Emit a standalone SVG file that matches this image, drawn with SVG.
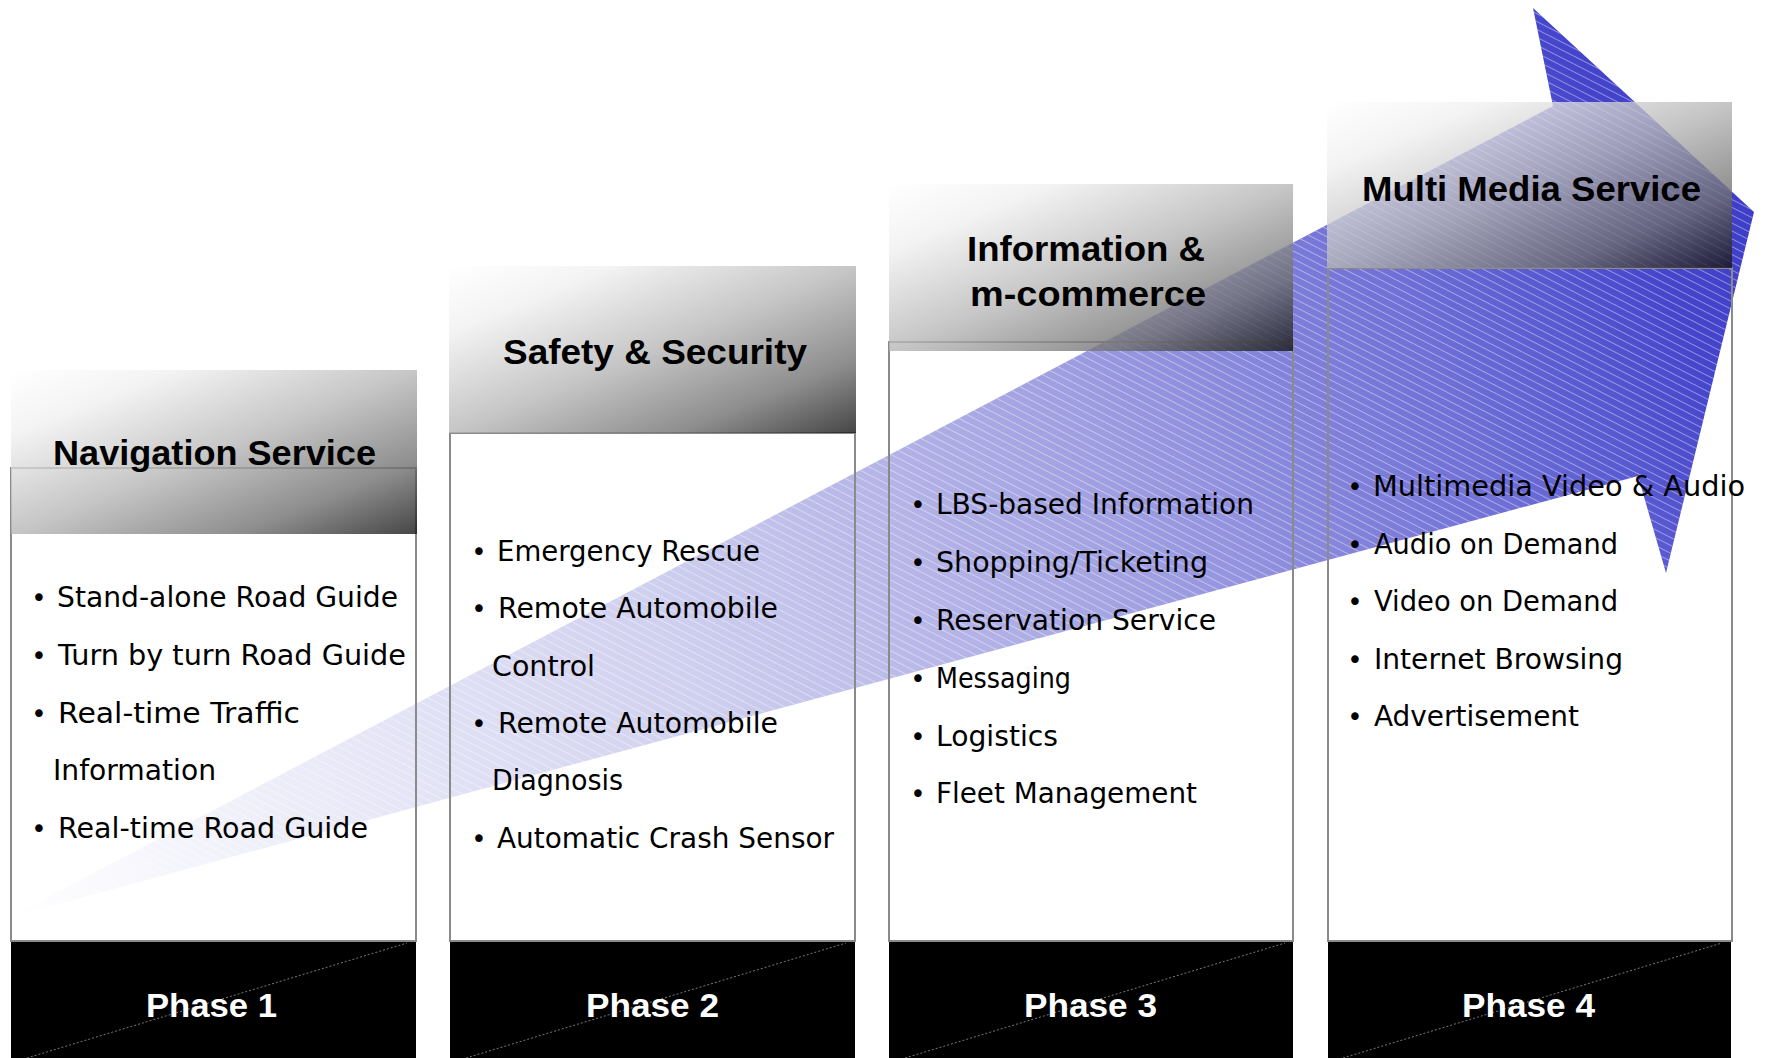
<svg xmlns="http://www.w3.org/2000/svg" width="1765" height="1058" viewBox="0 0 1765 1058">
  <style>
    .body-bg { fill: #ffffff; }
    .frame { fill: none; stroke: #8a8a8a; stroke-width: 2; }
    .head { fill: url(#headGrad); opacity: 0.78; }
    .bar { fill: #000000; }
    .bar-diag { stroke: #7a7a7a; stroke-width: 1; stroke-dasharray: 2 2; fill: none; }
    .title { font-family: "Liberation Sans", "DejaVu Sans", sans-serif; font-weight: bold; font-size: 35px; fill: #000000; }
    .item { font-family: "DejaVu Sans", "Liberation Sans", sans-serif; font-size: 28px; fill: #000000; }
    .dot { font-family: "DejaVu Sans", "Liberation Sans", sans-serif; font-size: 26px; fill: #000000; text-anchor: middle; }
    .phase { font-family: "Liberation Sans", "DejaVu Sans", sans-serif; font-weight: bold; font-size: 34px; fill: #ffffff; }
  </style>
  <defs>
    <linearGradient id="headGrad" x1="0" y1="0" x2="1" y2="1">
      <stop offset="0" stop-color="#ffffff"/>
      <stop offset="0.2" stop-color="#f0f0f0"/>
      <stop offset="0.5" stop-color="#b6b6b6"/>
      <stop offset="0.78" stop-color="#6e6e6e"/>
      <stop offset="1" stop-color="#121212"/>
    </linearGradient>
    <linearGradient id="arrowGrad" gradientUnits="userSpaceOnUse" x1="10" y1="917" x2="1754" y2="117">
      <stop offset="0" stop-color="#ffffff"/>
      <stop offset="0.14" stop-color="#efeffa"/>
      <stop offset="0.37" stop-color="#d0d0ef"/>
      <stop offset="0.6" stop-color="#a2a2e2"/>
      <stop offset="0.8" stop-color="#6e6ed6"/>
      <stop offset="0.92" stop-color="#4646cc"/>
      <stop offset="1" stop-color="#3a3ac6"/>
    </linearGradient>
    <pattern id="hatch" width="8" height="7" patternUnits="userSpaceOnUse" patternTransform="rotate(27)">
      <line x1="0" y1="0.5" x2="8" y2="0.5" stroke="#ffffff" stroke-width="1" stroke-opacity="0.4"/>
    </pattern>
  </defs>

  <!-- white column panels under the arrow -->
  <g id="panels">
    <rect class="body-bg" x="11" y="468" width="405" height="473"/>
    <rect class="body-bg" x="450" y="433" width="405" height="508"/>
    <rect class="body-bg" x="889" y="342" width="404" height="599"/>
    <rect class="body-bg" x="1328" y="268" width="404" height="673"/>
  </g>

  <!-- rising progress arrow -->
  <g id="connectors">
    <polygon id="progress-arrow" points="10,917 1553,106 1533,8 1754,212 1666,573 1638,476" fill="url(#arrowGrad)"/>
    <polygon points="10,917 1553,106 1533,8 1754,212 1666,573 1638,476" fill="url(#hatch)"/>
  </g>

  <!-- Phase 1 -->
  <g id="phase1">
    <rect class="frame" x="11" y="468" width="405" height="473"/>
    <rect class="head" x="11" y="370" width="406" height="164"/>
    <text class="title" x="53" y="465" textLength="323" lengthAdjust="spacingAndGlyphs">Navigation Service</text>
    <text class="dot" x="39" y="607">•</text>
    <text class="item" x="57" y="607" textLength="341" lengthAdjust="spacingAndGlyphs">Stand-alone Road Guide</text>
    <text class="dot" x="39" y="665">•</text>
    <text class="item" x="58" y="665" textLength="348" lengthAdjust="spacingAndGlyphs">Turn by turn Road Guide</text>
    <text class="dot" x="39" y="723">•</text>
    <text class="item" x="58" y="723" textLength="242" lengthAdjust="spacingAndGlyphs">Real-time Traffic</text>
    <text class="item" x="53" y="780" textLength="163" lengthAdjust="spacingAndGlyphs">Information</text>
    <text class="dot" x="39" y="838">•</text>
    <text class="item" x="58" y="838" textLength="310" lengthAdjust="spacingAndGlyphs">Real-time Road Guide</text>
    <rect class="bar" x="11" y="942" width="405" height="120"/>
    <line class="bar-diag" x1="27" y1="1058" x2="407" y2="943"/>
    <text class="phase" x="146" y="1017" textLength="131" lengthAdjust="spacingAndGlyphs">Phase 1</text>
  </g>

  <!-- Phase 2 -->
  <g id="phase2">
    <rect class="frame" x="450" y="433" width="405" height="508"/>
    <rect class="head" x="449" y="266" width="407" height="167"/>
    <text class="title" x="503" y="364" textLength="304" lengthAdjust="spacingAndGlyphs">Safety &amp; Security</text>
    <text class="dot" x="479" y="561">•</text>
    <text class="item" x="497" y="561" textLength="263" lengthAdjust="spacingAndGlyphs">Emergency Rescue</text>
    <text class="dot" x="479" y="618">•</text>
    <text class="item" x="498" y="618" textLength="280" lengthAdjust="spacingAndGlyphs">Remote Automobile</text>
    <text class="item" x="492" y="676" textLength="103" lengthAdjust="spacingAndGlyphs">Control</text>
    <text class="dot" x="479" y="733">•</text>
    <text class="item" x="498" y="733" textLength="280" lengthAdjust="spacingAndGlyphs">Remote Automobile</text>
    <text class="item" x="492" y="790" textLength="131" lengthAdjust="spacingAndGlyphs">Diagnosis</text>
    <text class="dot" x="479" y="848">•</text>
    <text class="item" x="497" y="848" textLength="337" lengthAdjust="spacingAndGlyphs">Automatic Crash Sensor</text>
    <rect class="bar" x="450" y="942" width="405" height="120"/>
    <line class="bar-diag" x1="466" y1="1058" x2="846" y2="943"/>
    <text class="phase" x="586" y="1017" textLength="133" lengthAdjust="spacingAndGlyphs">Phase 2</text>
  </g>

  <!-- Phase 3 -->
  <g id="phase3">
    <rect class="frame" x="889" y="342" width="404" height="599"/>
    <rect class="head" x="889" y="184" width="404" height="167"/>
    <text class="title" x="967" y="261" textLength="238" lengthAdjust="spacingAndGlyphs">Information &amp;</text>
    <text class="title" x="970" y="306" textLength="236" lengthAdjust="spacingAndGlyphs">m-commerce</text>
    <text class="dot" x="918" y="514">•</text>
    <text class="item" x="936" y="514" textLength="318" lengthAdjust="spacingAndGlyphs">LBS-based Information</text>
    <text class="dot" x="918" y="572">•</text>
    <text class="item" x="936" y="572" textLength="272" lengthAdjust="spacingAndGlyphs">Shopping/Ticketing</text>
    <text class="dot" x="918" y="630">•</text>
    <text class="item" x="936" y="630" textLength="280" lengthAdjust="spacingAndGlyphs">Reservation Service</text>
    <text class="dot" x="918" y="688">•</text>
    <text class="item" x="936" y="688" textLength="135" lengthAdjust="spacingAndGlyphs">Messaging</text>
    <text class="dot" x="918" y="746">•</text>
    <text class="item" x="936" y="746" textLength="122" lengthAdjust="spacingAndGlyphs">Logistics</text>
    <text class="dot" x="918" y="803">•</text>
    <text class="item" x="936" y="803" textLength="261" lengthAdjust="spacingAndGlyphs">Fleet Management</text>
    <rect class="bar" x="889" y="942" width="404" height="120"/>
    <line class="bar-diag" x1="905" y1="1058" x2="1285" y2="943"/>
    <text class="phase" x="1024" y="1017" textLength="133" lengthAdjust="spacingAndGlyphs">Phase 3</text>
  </g>

  <!-- Phase 4 -->
  <g id="phase4">
    <rect class="frame" x="1328" y="268" width="404" height="673"/>
    <rect class="head" x="1327" y="102" width="405" height="166"/>
    <text class="title" x="1362" y="201" textLength="339" lengthAdjust="spacingAndGlyphs">Multi Media Service</text>
    <text class="dot" x="1355" y="496">•</text>
    <text class="item" x="1373" y="496" textLength="372" lengthAdjust="spacingAndGlyphs">Multimedia Video &amp; Audio</text>
    <text class="dot" x="1355" y="554">•</text>
    <text class="item" x="1374" y="554" textLength="244" lengthAdjust="spacingAndGlyphs">Audio on Demand</text>
    <text class="dot" x="1355" y="611">•</text>
    <text class="item" x="1374" y="611" textLength="244" lengthAdjust="spacingAndGlyphs">Video on Demand</text>
    <text class="dot" x="1355" y="669">•</text>
    <text class="item" x="1374" y="669" textLength="249" lengthAdjust="spacingAndGlyphs">Internet Browsing</text>
    <text class="dot" x="1355" y="726">•</text>
    <text class="item" x="1374" y="726" textLength="205" lengthAdjust="spacingAndGlyphs">Advertisement</text>
    <rect class="bar" x="1328" y="942" width="403" height="120"/>
    <line class="bar-diag" x1="1343" y1="1058" x2="1722" y2="943"/>
    <text class="phase" x="1462" y="1017" textLength="133" lengthAdjust="spacingAndGlyphs">Phase 4</text>
  </g>
</svg>
